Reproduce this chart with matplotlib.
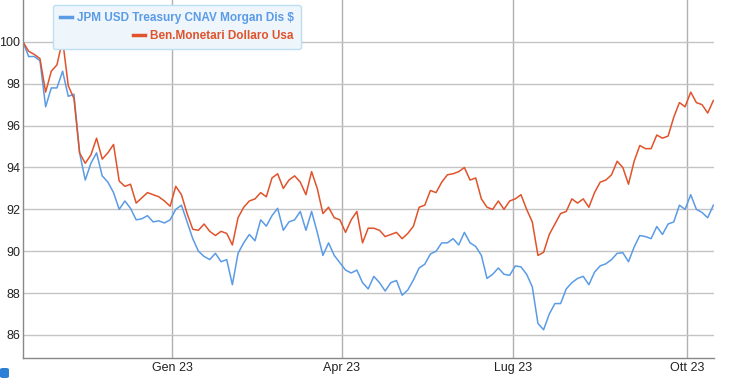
import matplotlib
matplotlib.use("Agg")
import matplotlib.pyplot as plt
import pandas as pd
from matplotlib.patches import FancyBboxPatch

# fund names
labels = ["JPM USD Treasury CNAV Morgan Dis $", "Ben.Monetari Dollaro Usa"]
colors = ["#5b9be6", "#e0532b"]

# one point every 3 days, 14 Oct 2022 -> 16 Oct 2023
dates = pd.date_range("2022-10-14", "2023-10-16", freq="3D")

jpm = [100.0, 99.3, 99.3, 99.1, 96.9, 97.8, 97.8, 98.6, 97.4, 97.5,
       94.7, 93.4, 94.2, 94.7, 93.6, 93.3, 92.8, 92.0, 92.4, 92.05,
       91.5, 91.55, 91.7, 91.4, 91.45, 91.35, 91.5, 92.0, 92.2, 91.4,
       90.6, 90.0, 89.75, 89.6, 89.9, 89.5, 89.6, 88.4, 89.9, 90.4,
       90.8, 90.5, 91.5, 91.2, 91.7, 92.05, 91.0, 91.4, 91.5, 91.9,
       91.0, 91.9, 90.9, 89.8, 90.4, 89.8, 89.45, 89.1, 88.96, 89.1,
       88.5, 88.2, 88.8, 88.5, 88.1, 88.5, 88.6, 87.9, 88.15, 88.63,
       89.2, 89.38, 89.87, 90.0, 90.4, 90.4, 90.6, 90.3, 90.9, 90.4,
       90.23, 89.8, 88.7, 88.9, 89.2, 88.9, 88.85, 89.3, 89.25, 88.9,
       88.3, 86.55, 86.25, 87.0, 87.5, 87.5, 88.2, 88.5, 88.7, 88.8,
       88.4, 89.0, 89.3, 89.4, 89.6, 89.9, 89.93, 89.5, 90.2, 90.75,
       90.7, 90.6, 91.18, 90.8, 91.3, 91.4, 92.2, 92.0, 92.7, 92.0,
       91.85, 91.6, 92.2]

ben = [100.0, 99.55, 99.4, 99.2, 97.6, 98.6, 98.9, 100.1, 97.9, 97.3,
       94.7, 94.2, 94.6, 95.4, 94.4, 94.7, 95.1, 93.35, 93.1, 93.2,
       92.3, 92.55, 92.8, 92.7, 92.6, 92.4, 92.15, 93.1, 92.7, 91.8,
       91.05, 91.0, 91.3, 90.95, 90.75, 90.95, 90.85, 90.3, 91.6, 92.1,
       92.4, 92.5, 92.8, 92.6, 93.5, 93.7, 93.0, 93.4, 93.6, 93.3,
       92.7, 93.8, 93.0, 91.8, 92.1, 91.6, 91.5, 90.9, 91.5, 91.9,
       90.4, 91.1, 91.1, 91.0, 90.7, 90.8, 90.9, 90.6, 90.85, 91.2,
       92.1, 92.2, 92.9, 92.8, 93.3, 93.65, 93.7, 93.8, 94.0, 93.4,
       93.5, 92.5, 92.1, 92.0, 92.4, 92.0, 92.4, 92.5, 92.7, 92.0,
       91.4, 89.8, 89.95, 90.8, 91.3, 91.8, 91.9, 92.5, 92.3, 92.5,
       92.1, 92.8, 93.3, 93.4, 93.65, 94.3, 94.0, 93.2, 94.3, 95.05,
       94.9, 94.9, 95.55, 95.4, 95.5, 96.4, 97.1, 96.9, 97.6, 97.1,
       97.0, 96.6, 97.2]

month_ticks = ["2023-01-01", "2023-04-01", "2023-07-01", "2023-10-01"]
month_names = ["Gen 23", "Apr 23", "Lug 23", "Ott 23"]
y_ticks = [86, 88, 90, 92, 94, 96, 98, 100]

plt.rcParams["font.family"] = ["Liberation Sans", "DejaVu Sans"]

fig = plt.figure(figsize=(7.34, 3.78), dpi=100)
ax = fig.add_axes([23 / 734, 20 / 378, (714 - 23) / 734, 358 / 378])

ax.plot(dates, jpm, color=colors[0], lw=1.1, label=labels[0])
ax.plot(dates, ben, color=colors[1], lw=1.1, label=labels[1])

ax.set_xlim(pd.Timestamp("2022-10-14"), pd.Timestamp("2023-10-15 08:00"))
ax.set_ylim(84.9, 102.0)
ax.set_xticks(pd.to_datetime(month_ticks))
ax.set_xticklabels(month_names)
ax.set_yticks(y_ticks)
ax.tick_params(length=0, labelsize=9, colors="#222222", pad=3)
ax.tick_params(axis="y", pad=2)

ax.grid(axis="y", color="#c4c4c4", lw=1)
ax.grid(axis="x", color="#b0b0b0", lw=1)
ax.set_axisbelow(True)
for s in ["top", "right"]:
    ax.spines[s].set_visible(False)
for s in ["left", "bottom"]:
    ax.spines[s].set_color("#888888")
    ax.spines[s].set_linewidth(1)

leg = ax.legend(loc="upper left", bbox_to_anchor=(53 / 734, 1 - 5 / 378),
                bbox_transform=fig.transFigure, borderaxespad=0,
                fontsize=8.5, handlelength=1.0,
                handletextpad=0.4, labelspacing=0.5, borderpad=0.6,
                fancybox=True, framealpha=1)
# right-align the entries like the original widget
for col in leg._legend_handle_box.get_children():
    col.align = "right"
leg.get_frame().set_facecolor("#eef6fc")
leg.get_frame().set_edgecolor("#bcdff3")
for txt, c in zip(leg.get_texts(), colors):
    txt.set_color(c)
    txt.set_fontweight("bold")
for ln in leg.get_lines():
    ln.set_linewidth(2.5)

# little blue tab in the corner
fig.patches.append(FancyBboxPatch((0, 0), 9 / 734, 10 / 378,
                                  boxstyle="round,pad=0,rounding_size=0.004",
                                  transform=fig.transFigure,
                                  facecolor="#2b7fd6", edgecolor="none"))

fig.savefig("out.png", dpi=100)
